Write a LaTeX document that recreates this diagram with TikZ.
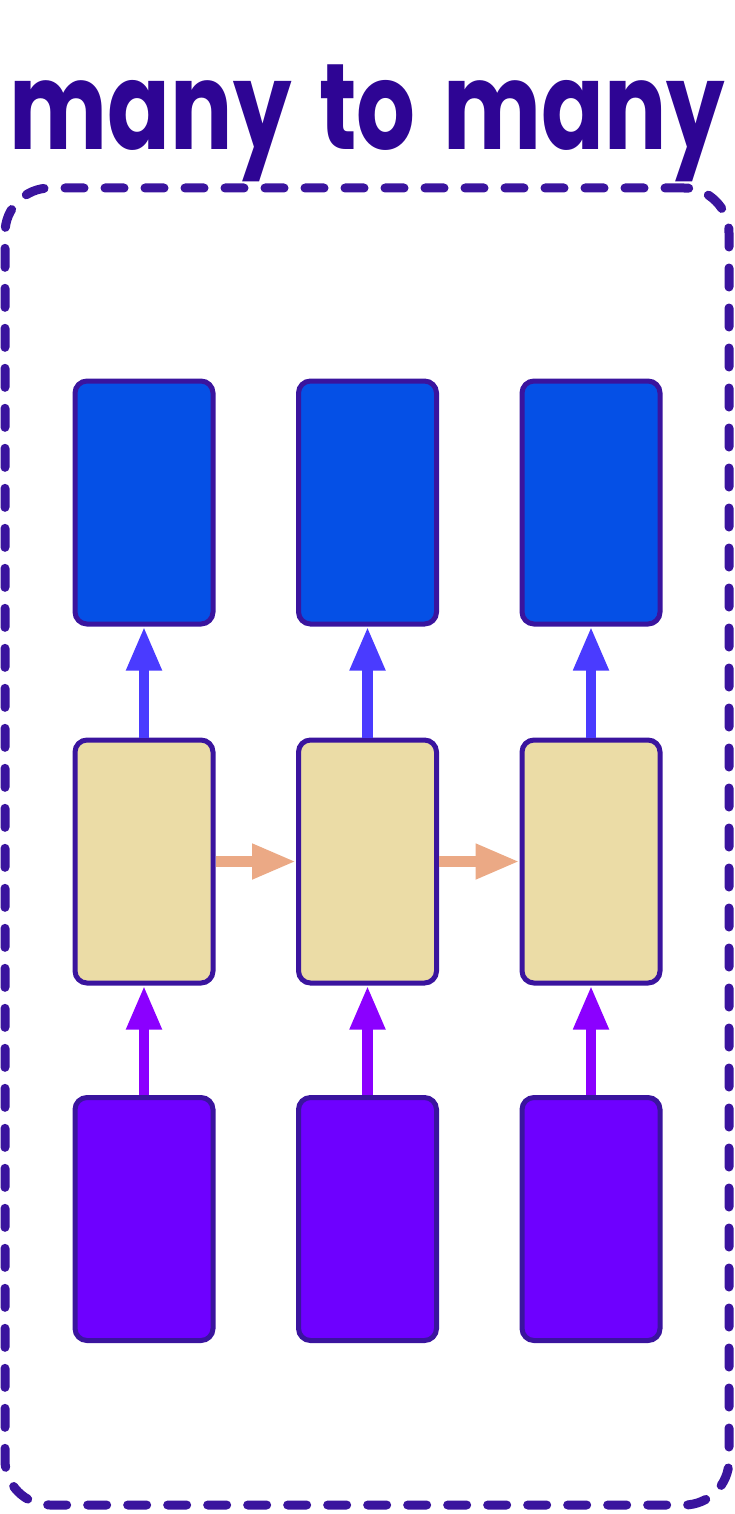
\documentclass[tikz,border=0pt]{standalone}
\usepackage{fontspec}
\setmainfont{Poppins}
\usetikzlibrary{arrows.meta}
\definecolor{border}{HTML}{3A149E}
\definecolor{titlec}{HTML}{2E0594}
\definecolor{outblue}{HTML}{0550E6}
\definecolor{hidtan}{HTML}{EBDCA6}
\definecolor{inpurple}{HTML}{6E00FF}
\definecolor{upblue}{HTML}{4A3BFF}
\definecolor{uppurple}{HTML}{8B00FF}
\definecolor{salmon}{HTML}{EBA985}
\begin{document}
\begin{tikzpicture}[x=1pt,y=-1pt,
  cell/.style={draw=border, line width=5pt, rounded corners=12pt, minimum width=138pt, minimum height=243pt, inner sep=0pt},
  outcell/.style={cell, fill=outblue},
  hidcell/.style={cell, fill=hidtan},
  incell/.style={cell, fill=inpurple},
  arr/.style={line width=10.5pt, -{Triangle[length=44pt,width=33pt]}},
  frame/.style={draw=border, line width=9pt, line cap=round, dash pattern=on 19pt off 21pt, rounded corners=45pt, minimum width=724pt, minimum height=1317pt, inner sep=0pt, outer sep=0pt}]
\useasboundingbox (0,0) rectangle (735,1514);
\node[frame] (frame) at (367,846.5) {};
\node[anchor=base, text=titlec, inner sep=0pt] (title) at (367.5,150) {\resizebox{715pt}{0.86\height}{\fontsize{142}{150}\selectfont\bfseries many\hspace{0.3em}to\hspace{0.3em}many}};
\foreach \i/\x in {1/144,2/367.5,3/591}{
  \node[outcell] (o\i) at (\x,502.5) {};
  \node[hidcell] (h\i) at (\x,861.5) {};
  \node[incell] (x\i) at (\x,1219) {};
  \draw[arr, upblue] (h\i.north) -- (o\i.south);
  \draw[arr, uppurple] (x\i.north) -- (h\i.south);
}
\draw[arr, salmon] (h1.east) -- (h2.west);
\draw[arr, salmon] (h2.east) -- (h3.west);
\end{tikzpicture}
\end{document}
